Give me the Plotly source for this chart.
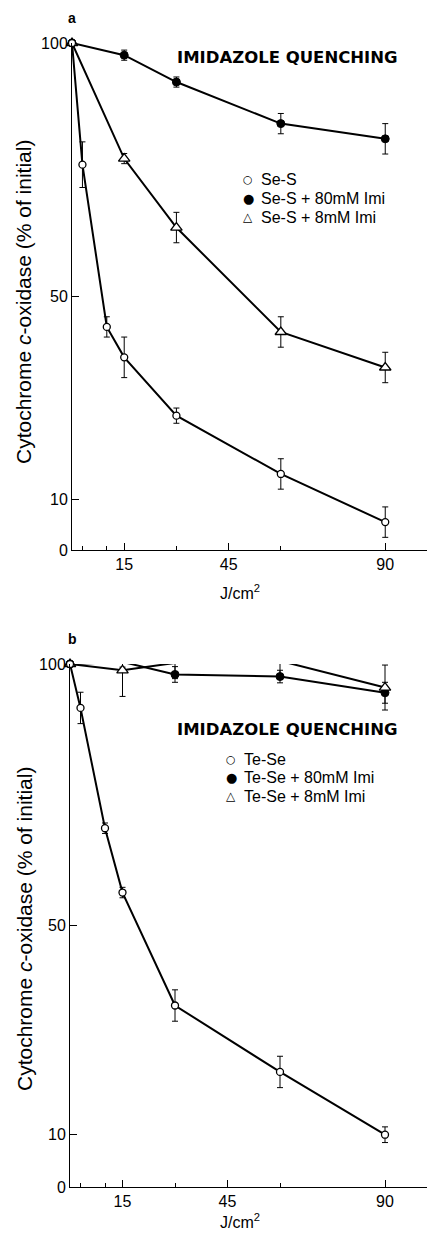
import plotly.graph_objects as go

# ---------------- data ----------------
# Panel a (Se-S)
xa_open = [0, 3, 10, 15, 30, 60, 90]
ya_open = [100, 76, 44, 38, 26.5, 15, 5.5]
ea_open = [None, 4.5, 2, 4, 1.5, 3, 3]

xa_fill = [0, 15, 30, 60, 90]
ya_fill = [100, 97.6, 92.3, 84.1, 81.1]
ea_fill = [None, 1, 1, 2, 3]

xa_tri = [0, 15, 30, 60, 90]
ya_tri = [100, 77.2, 63.6, 43, 36]
ea_tri = [None, 1, 3, 3, 3]

# Panel b (Te-Se)
xb_open = [0, 3, 10, 15, 30, 60, 90]
yb_open = [100, 91.6, 68.6, 56.3, 34.7, 22.0, 10]
eb_open = [None, 3, 1, 1, 3, 3, 1.5]

xb_fill = [0, 15, 30, 60, 90]
yb_fill = [100, 100.4, 98, 97.6, 94.5]
eb_fill = [None, 1, 1.5, 1.2, 2]

xb_tri = [0, 15, 30, 60, 90]
yb_tri = [100, 98.8, 100.2, 100.6, 95.5]
eb_tri = [None, 5, 3, 3.5, 4.3]

names_a = ["Se-S", "Se-S + 80mM Imi", "Se-S + 8mM Imi"]
names_b = ["Te-Se", "Te-Se + 80mM Imi", "Te-Se + 8mM Imi"]
legend_glyphs = ["\u25CB", "\u25CF", "\u25B3"]

y_ticks = [0, 10, 50, 100]
x_major = [15, 45, 90]
x_minor = [3, 10, 30, 60]

# ---------------- figure ----------------
W, H = 427, 1237
FONT = "Liberation Sans, Arial, Helvetica, sans-serif"
BOLD_FONT = "DejaVu Sans, Liberation Sans, Arial, sans-serif"

fig = go.Figure()

styles = {
    "open": dict(symbol="circle", size=7, color="white", line=dict(color="black", width=1.3)),
    "fill": dict(symbol="circle", size=8, color="black", line=dict(color="black", width=1)),
    "tri": dict(symbol="triangle-up", size=10, color="white", line=dict(color="black", width=1.3)),
}


def add_series(x, y, e, style, xa, ya, name):
    fig.add_trace(go.Scatter(
        x=x, y=y, mode="lines+markers", xaxis=xa, yaxis=ya, name=name,
        line=dict(color="black", width=2),
        marker=styles[style],
        error_y=dict(type="data", array=e, visible=True, color="black", thickness=1, width=3),
        showlegend=False, cliponaxis=False,
    ))


add_series(xa_fill, ya_fill, ea_fill, "fill", "x", "y", names_a[1])
add_series(xa_tri, ya_tri, ea_tri, "tri", "x", "y", names_a[2])
add_series(xa_open, ya_open, ea_open, "open", "x", "y", names_a[0])

add_series(xb_fill, yb_fill, eb_fill, "fill", "x2", "y2", names_b[1])
add_series(xb_tri, yb_tri, eb_tri, "tri", "x2", "y2", names_b[2])
add_series(xb_open, yb_open, eb_open, "open", "x2", "y2", names_b[0])


def py(px):
    return (H - px) / H


def px_(p):
    return p / W


xaxis_common = dict(
    showline=True, linecolor="black", linewidth=1, showgrid=False, zeroline=False,
    tickmode="array", tickvals=x_major, ticktext=[str(v) for v in x_major],
    ticks="inside", ticklen=7, tickcolor="black", tickwidth=1,
    minor=dict(tickmode="array", tickvals=x_minor, ticks="inside", ticklen=4,
               tickcolor="black", tickwidth=1),
    tickfont=dict(family=FONT, size=16, color="black"),
    automargin=False, fixedrange=True,
)
yaxis_common = dict(
    showline=True, linecolor="black", linewidth=1, showgrid=False, zeroline=False,
    tickmode="array", tickvals=y_ticks, ticktext=[str(v) for v in y_ticks],
    ticks="inside", ticklen=7, tickcolor="black", tickwidth=1,
    tickfont=dict(family=FONT, size=16, color="black"),
    range=[0, 100], automargin=False, fixedrange=True,
)

fig.update_layout(
    width=W, height=H, autosize=False,
    margin=dict(l=0, r=0, t=0, b=0, pad=0),
    paper_bgcolor="white", plot_bgcolor="white",
    font=dict(family=FONT, color="black"),
    showlegend=False,
    xaxis=dict(xaxis_common, domain=[px_(72), 1.0], range=[0, 102], anchor="y"),
    yaxis=dict(yaxis_common, domain=[py(550), py(43)], anchor="x"),
    xaxis2=dict(xaxis_common, domain=[px_(70), 1.0], range=[0, 102], anchor="y2"),
    yaxis2=dict(yaxis_common, domain=[py(1187), py(664)], anchor="x2"),
)


def ann(text, x, y, size, family=FONT, xanchor="center", angle=0):
    return dict(text=text, x=px_(x), y=py(y), xref="paper", yref="paper",
                showarrow=False, xanchor=xanchor, yanchor="middle", textangle=angle,
                font=dict(family=family, size=size, color="black"))


annotations = [
    ann("<b>a</b>", 72, 18, 14),
    ann("<b>b</b>", 72, 639, 14),
    ann("<b>IMIDAZOLE QUENCHING</b>", 287, 58, 16.5, BOLD_FONT),
    ann("<b>IMIDAZOLE QUENCHING</b>", 287, 729, 16.5, BOLD_FONT),
    ann("Cytochrome <i>c</i>-oxidase (% of initial)", 24, 302, 21, angle=-90),
    ann("Cytochrome <i>c</i>-oxidase (% of initial)", 24, 929, 21, angle=-90),
    ann("J/cm<sup>2</sup>", 240, 592, 16),
    ann("J/cm<sup>2</sup>", 240, 1221, 16),
]

# legend text (glyph column + label column)
leg_a_y = [180, 198, 217]
leg_b_y = [759, 777, 796]
glyph_sizes = [11, 13, 12]
for g, gs, nm, yy in zip(legend_glyphs, glyph_sizes, names_a, leg_a_y):
    annotations.append(ann(g, 248, yy, gs, "DejaVu Sans"))
    annotations.append(ann(nm, 259, yy, 16, xanchor="left"))
for g, gs, nm, yy in zip(legend_glyphs, glyph_sizes, names_b, leg_b_y):
    annotations.append(ann(g, 231, yy, gs, "DejaVu Sans"))
    annotations.append(ann(nm, 242, yy, 16, xanchor="left"))

fig.update_layout(annotations=annotations)

fig.write_html("out.html")
